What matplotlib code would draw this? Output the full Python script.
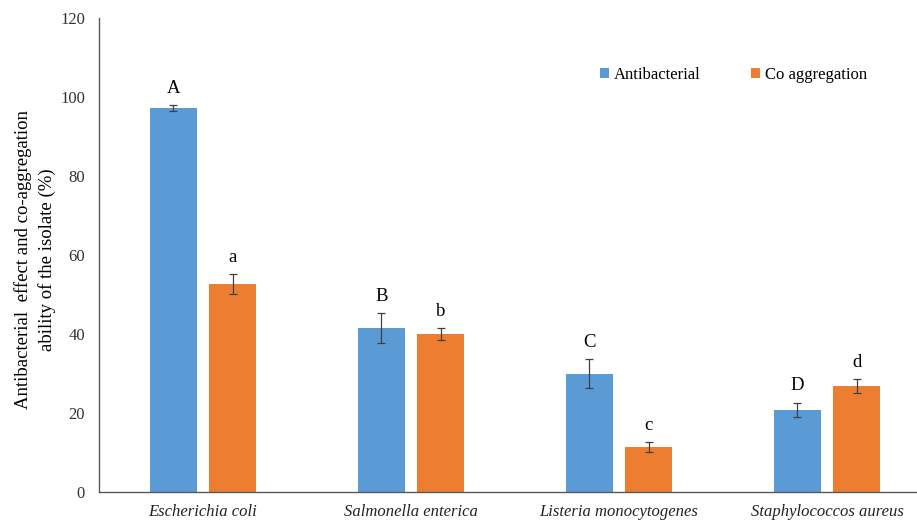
import matplotlib.pyplot as plt
import numpy as np

plt.rcParams['font.family'] = ['Liberation Serif', 'DejaVu Serif']

# Values per bacterium (%)
bacteria = ['Escherichia coli', 'Salmonella enterica',
            'Listeria monocytogenes', 'Staphylococcos aureus']
antibacterial = [97.2, 41.5, 30.0, 20.8]
antibacterial_err = [0.8, 3.8, 3.7, 1.8]
coaggregation = [52.7, 40.0, 11.4, 26.8]
coaggregation_err = [2.5, 1.4, 1.2, 1.8]
upper_letters = ['A', 'B', 'C', 'D']
lower_letters = ['a', 'b', 'c', 'd']

blue = '#5B9BD5'
orange = '#ED7D31'

fig = plt.figure(figsize=(9.17, 5.23), dpi=100)
# axes runs a little past the right edge of the figure
ax = fig.add_axes([99 / 917, 31 / 523, 832 / 917, 474 / 523])

x = np.arange(len(bacteria))
w = 0.226
off = 0.142

err_kw = dict(ecolor='#404040', elinewidth=0.9, capsize=3, capthick=0.9)
ax.bar(x - off, antibacterial, w, color=blue, yerr=antibacterial_err,
       error_kw=err_kw, label='Antibacterial', zorder=2)
ax.bar(x + off, coaggregation, w, color=orange, yerr=coaggregation_err,
       error_kw=err_kw, label='Co aggregation', zorder=2)

# significance letters above the error bars
for i in range(len(bacteria)):
    ax.annotate(upper_letters[i], (x[i] - off, antibacterial[i] + antibacterial_err[i]),
                xytext=(0, 6), textcoords='offset points', ha='center', va='bottom',
                fontsize=13.5)
    ax.annotate(lower_letters[i], (x[i] + off, coaggregation[i] + coaggregation_err[i]),
                xytext=(0, 6), textcoords='offset points', ha='center', va='bottom',
                fontsize=13.5)

ax.set_xlim(-0.5, 3.5)
ax.set_ylim(0, 120)
ax.set_yticks(range(0, 121, 20))
ax.set_xticks(x)
ax.set_xticklabels(bacteria, fontstyle='italic', fontsize=12)
ax.tick_params(axis='y', length=0, pad=10, labelsize=12, labelcolor='#333333')
ax.tick_params(axis='x', length=0, pad=9, labelcolor='#222222')

for s in ['top', 'right']:
    ax.spines[s].set_visible(False)
for s in ['left', 'bottom']:
    ax.spines[s].set_color('#595959')
    ax.spines[s].set_linewidth(1.0)

ax.set_ylabel('Antibacterial  effect and co-aggregation\nability of the isolate (%)',
              fontsize=13.5, linespacing=1.4)
ax.yaxis.set_label_coords(-0.052, 0.49)

ax.legend(loc='center left', bbox_to_anchor=(585 / 917, 1 - 75 / 523),
          bbox_transform=fig.transFigure, ncol=2, frameon=False, fontsize=12,
          handlelength=0.55, handleheight=0.55, handletextpad=0.3, columnspacing=3.0)

plt.savefig('out.png', dpi=100)
plt.close()
